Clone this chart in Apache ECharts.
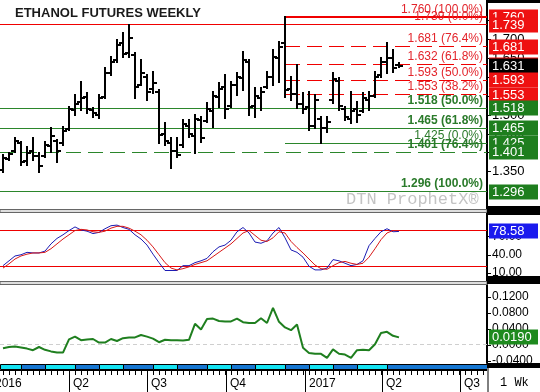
<!DOCTYPE html>
<html><head><meta charset="utf-8">
<script src="https://cdn.jsdelivr.net/npm/echarts@6/dist/echarts.min.js"></script>
<style>html,body{margin:0;padding:0;background:#fff}#c{width:540px;height:392px}</style>
</head><body><div id="c"></div>
<script>
// ---------------- DATA ----------------
const firstBarDate = '2016-01-15';           // weekly bars start here
const opens  = [1.354,1.383,1.405,1.425,1.378,1.405,1.392,1.392,1.418,1.430,1.425,1.462,1.512,1.535,1.548,1.512,1.500,1.548,1.612,1.645,1.690,1.665,1.660,1.580,1.600,1.570,1.560,1.450,1.425,1.405,1.420,1.470,1.445,1.488,1.485,1.510,1.548,1.575,1.525,1.580,1.598,1.640,1.525,1.545,1.575,1.600,1.650,1.690,1.570,1.555,1.530,1.520,1.470,1.490,1.465,1.540,1.590,1.515,1.490,1.515,1.510,1.540,1.550,1.605,1.640,1.650,1.632];
const highs  = [1.394,1.399,1.439,1.428,1.415,1.439,1.399,1.428,1.466,1.434,1.468,1.521,1.553,1.588,1.558,1.519,1.553,1.625,1.654,1.699,1.718,1.739,1.665,1.646,1.606,1.614,1.566,1.479,1.439,1.439,1.487,1.487,1.500,1.495,1.532,1.561,1.585,1.606,1.588,1.611,1.667,1.646,1.572,1.572,1.614,1.672,1.693,1.760,1.601,1.633,1.558,1.561,1.553,1.495,1.495,1.611,1.598,1.521,1.561,1.535,1.558,1.561,1.614,1.651,1.691,1.672,1.638];
const lows   = [1.349,1.381,1.402,1.367,1.367,1.381,1.349,1.389,1.402,1.375,1.420,1.460,1.500,1.513,1.505,1.495,1.492,1.545,1.606,1.641,1.654,1.654,1.545,1.580,1.540,1.558,1.426,1.420,1.359,1.389,1.415,1.442,1.399,1.428,1.481,1.468,1.521,1.492,1.521,1.553,1.566,1.500,1.495,1.513,1.572,1.580,1.588,1.548,1.540,1.519,1.505,1.460,1.466,1.425,1.455,1.532,1.513,1.487,1.479,1.481,1.508,1.513,1.548,1.601,1.611,1.614,1.627];
const closes = [1.386,1.397,1.430,1.375,1.400,1.390,1.365,1.420,1.445,1.405,1.458,1.515,1.530,1.545,1.515,1.505,1.545,1.612,1.640,1.685,1.662,1.705,1.575,1.612,1.560,1.585,1.448,1.430,1.405,1.395,1.475,1.450,1.490,1.440,1.515,1.550,1.570,1.515,1.580,1.600,1.645,1.520,1.550,1.560,1.600,1.655,1.680,1.565,1.555,1.530,1.515,1.470,1.540,1.465,1.482,1.595,1.525,1.495,1.510,1.500,1.545,1.550,1.600,1.640,1.650,1.625,1.631];
const stochK = [22,30,38,40,44,43,43,46,58,67,73,80,86,81,79,75,77,83,88,89,85,82,73,66,56,41,27,14,14,14,22,22,27,30,34,45,53,56,64,78,85,76,61,59,63,76,85,68,48,44,36,21,15,15,18,32,30,26,22,24,30,55,67,78,83,78,78.58];
const stochD = [18,25,33,38,41,43,43,44,50,58,66,73,80,82,81,78,77,79,84,87,87,84,79,73,64,53,40,27,18,15,17,20,24,27,30,37,44,51,58,67,76,80,72,64,62,68,78,76,62,52,43,33,23,17,16,22,27,29,26,24,26,36,50,65,76,80,80];
const oscValues = [-0.008,-0.005,-0.004,-0.006,-0.009,-0.013,-0.005,-0.012,-0.016,-0.019,-0.019,0.014,0.021,0.012,0.014,0.015,0.006,0.006,0.015,0.010,0.017,0.019,0.019,0.025,0.021,0.016,0.007,0.013,0.012,0.012,0.011,0.013,0.053,0.039,0.065,0.066,0.060,0.059,0.059,0.066,0.057,0.055,0.055,0.067,0.055,0.093,0.058,0.044,0.037,0.051,-0.007,-0.020,-0.022,-0.022,-0.032,-0.011,-0.022,-0.024,-0.032,-0.013,-0.012,-0.013,0.002,0.030,0.033,0.023,0.019];
const redLevels   = [1.760, 1.739, 1.681, 1.632, 1.593, 1.553];
const redPcts     = ['100.0%','0.0%','76.4%','61.8%','50.0%','38.2%'];
const greenLevels = [1.518, 1.465, 1.425, 1.401, 1.296];
const greenPcts   = ['50.0%','61.8%','0.0%','76.4%','100.0%'];
const priceTicks  = [1.35,1.40,1.45,1.50,1.55,1.60,1.65,1.70,1.75];
const stochTicks  = [10,40,70];
const stochBands  = [80,20];
const oscTicks    = [-0.04,0,0.04,0.08,0.12];
const quarterDates  = ['2016-01-01','2016-04-01','2016-07-01','2016-10-01','2017-01-01','2017-04-01','2017-07-01'];
const quarterLabels = ['2016','Q2','Q3','Q4','2017','Q2','Q3'];
const monthBandDates = ['2016-02-05','2016-03-04','2016-04-08','2016-05-06','2016-06-03','2016-07-08','2016-08-05','2016-09-09','2016-10-07','2016-11-04','2016-12-09','2017-01-06','2017-02-03','2017-03-03','2017-04-07'];
const title = 'ETHANOL FUTURES WEEKLY';
const watermark = 'DTN ProphetX\u00AE';
const periodLabel = '1 Wk';

// ---------------- HELPERS / STYLES ----------------
const DAY = 864e5;
const weekOf = s => (Date.parse(s) - Date.parse('2016-01-01')) / (7 * DAY);
const barW = k => weekOf(firstBarDate) + k;
const W0 = barW(0) - 0.5, W1 = W0 + 487 / 6;
const FONT = '"Liberation Sans", Arial, sans-serif';
const RED_LINE = '#f00000', RED_TXT = '#e3242b', GREEN_LINE = '#2b862b', GREEN_TXT = '#2a7a2a';
const swingW = barW(highs.indexOf(Math.max(...highs)));
const DASH = [15,7];
const redStyles = [
  {from:'swing', dash:null, width:2},
  {from:'start', dash:null, width:1, even:true},
  {from:'swing', dash:DASH, width:1, even:true},
  {from:'swing', dash:DASH, width:1, even:true},
  {from:'swing', dash:DASH, width:1, even:true},
  {from:'swing', dash:DASH, width:1, even:true}
];
const greenStyles = [
  {from:'start', dash:null, width:1, bold:true},
  {from:'start', dash:null, width:1, bold:true},
  {from:'swing', dash:null, width:1, bold:false},
  {from:'start', dash:DASH, width:1, bold:true},
  {from:'start', dash:null, width:1, bold:true}
];
const fibDefs = [
  ...redLevels.map((v,i) => ({v, label:v.toFixed(3)+' ('+redPcts[i]+')', color:RED_LINE, txt:RED_TXT, ...redStyles[i]})),
  ...greenLevels.map((v,i) => ({v, label:v.toFixed(3)+' ('+greenPcts[i]+')', color:GREEN_LINE, txt:GREEN_TXT, ...greenStyles[i]}))
];

function rightAxis(grid, min, max, ticks, dec, size) {
  return {type:'value', gridIndex:grid, position:'right', min, max,
    axisLine:{show:true, lineStyle:{color:'#000', width:2}},
    axisTick:{show:true, length:4, customValues:ticks, lineStyle:{color:'#000', width:1}},
    axisLabel:{show:true, customValues:ticks, formatter:v => v.toFixed(dec), color:'#000', fontSize:size, fontFamily:FONT, margin:5},
    splitLine:{show:false}};
}
function crisp(y, w, even) {
  if (even) return Math.round((y - 0.5) / 2) * 2 + 0.5;
  return w % 2 ? Math.round(y - 0.5) + 0.5 : Math.round(y);
}
function hLines(grid, values, stroke, dash, z) {
  return {type:'custom', xAxisIndex:grid, yAxisIndex:grid, z, silent:true,
    data:values.map(v => [W0, v]), encode:{x:0, y:1},
    renderItem:(p, api) => {
      const a = api.coord([W0, api.value(1)]), b = api.coord([W1, api.value(1)]);
      const y = crisp(a[1], 1, true);
      return {type:'line', shape:{x1:a[0], y1:y, x2:b[0], y2:y}, style:{stroke, lineWidth:1, lineDash:dash}};
    }};
}

const bandEdges = [W0, ...monthBandDates.map(weekOf), W1];
const bandData = bandEdges.slice(0,-1).map((s,i) => [s, bandEdges[i+1], i % 2]);

const chart = echarts.init(document.getElementById('c'));
chart.setOption({
  animation:false,
  backgroundColor:'#fff',
  grid:[
    {left:0, right:53, top:0, height:210},
    {left:0, right:53, top:213, height:69},
    {left:0, right:53, top:285, height:78},
    {left:0, right:53, top:364, height:6}
  ],
  xAxis:[0,1,2,3].map(i => ({type:'value', gridIndex:i, min:W0, max:W1, show:false})),
  yAxis:[
    rightAxis(0, 1.248, 1.805, priceTicks, 3, 13),
    rightAxis(1, -5, 109, stochTicks, 2, 12),
    rightAxis(2, -0.045, 0.15, oscTicks, 4, 12),
    {type:'value', gridIndex:3, min:0, max:1, show:false}
  ],
  series:[
    // Fibonacci levels with their labels
    {type:'custom', xAxisIndex:0, yAxisIndex:0, z:2, silent:true,
     data:fibDefs.map(d => [d.from === 'swing' ? swingW : W0, d.v]), encode:{x:0, y:1},
     renderItem:(p, api) => {
       const d = fibDefs[p.dataIndex];
       const a = api.coord([api.value(0), api.value(1)]), b = api.coord([W1, api.value(1)]);
       const y = crisp(a[1], d.width, d.even);
       return {type:'group', children:[
         {type:'line', shape:{x1:a[0], y1:y, x2:b[0], y2:y}, style:{stroke:d.color, lineWidth:d.width, lineDash:d.dash}},
         {type:'text', style:{text:d.label, x:b[0]-4, y:y-1.5, fill:d.txt,
            font:(d.bold ? 'bold ' : '') + '12px ' + FONT, align:'right', verticalAlign:'bottom', textAlign:'right', textVerticalAlign:'bottom'}}
       ]};
     }},
    // weekly OHLC bars
    {type:'custom', xAxisIndex:0, yAxisIndex:0, z:5,
     data:opens.map((o,k) => [barW(k), o, highs[k], lows[k], closes[k]]),
     encode:{x:0, y:[1,2,3,4]},
     renderItem:(params, api) => {
       const x = api.value(0);
       const o = api.coord([x, api.value(1)]), h = api.coord([x, api.value(2)]);
       const l = api.coord([x, api.value(3)]), c = api.coord([x, api.value(4)]);
       const st = {stroke:'#000', lineWidth:2};
       const yo = Math.round(o[1]), yc = Math.round(c[1]);
       return {type:'group', children:[
         {type:'line', shape:{x1:h[0], y1:Math.round(h[1])-1, x2:l[0], y2:Math.round(l[1])+1}, style:st},
         {type:'line', shape:{x1:o[0]-4, y1:yo, x2:o[0], y2:yo}, style:st},
         {type:'line', shape:{x1:c[0], y1:yc, x2:c[0]+4, y2:yc}, style:st}
       ]};
     }},
    hLines(1, stochBands, '#ee0000', null, 2),
    {type:'line', xAxisIndex:1, yAxisIndex:1, data:stochK.map((v,k) => [barW(k), v]),
     symbol:'none', lineStyle:{color:'#1c1cb4', width:1}, z:3},
    {type:'line', xAxisIndex:1, yAxisIndex:1, data:stochD.map((v,k) => [barW(k), v]),
     symbol:'none', lineStyle:{color:'#d81818', width:1}, z:4},
    hLines(2, [0], '#cfcfcf', [4,3], 2),
    {type:'line', xAxisIndex:2, yAxisIndex:2, data:oscValues.map((v,k) => [barW(k), v]),
     symbol:'none', lineStyle:{color:'#1f7f1f', width:2}, z:4},
    {type:'custom', xAxisIndex:3, yAxisIndex:3, data:bandData, clip:true,
     renderItem:(params, api) => {
       const a = api.coord([api.value(0), 1]), b = api.coord([api.value(1), 0]);
       return {type:'rect', shape:{x:Math.round(a[0])+0.5, y:a[1]+0.5, width:Math.round(b[0]-a[0]), height:b[1]-a[1]-1},
         style:{fill:api.value(2) ? '#1677d2' : '#14e3f2', stroke:'#000', lineWidth:1}};
     }}
  ]
});

// ---------- overlay text / boxes positioned through the axes ----------
const px  = w => chart.convertToPixel({xAxisIndex:3}, w);
const py  = (i, v) => chart.convertToPixel({yAxisIndex:i}, v);
const g = [];
let z2 = 1;
function text(x, y, t, font, fill, align) {
  g.push({type:'text', x, y, z:100, z2:z2++, silent:true,
    style:{text:t, font, fill, align:align||'left', verticalAlign:'middle', textAlign:align||'left', textVerticalAlign:'middle'}});
}
function rect(x, y, w, h, fill, stroke) {
  g.push({type:'rect', z:100, z2:z2++, silent:true, shape:{x, y, width:w, height:h},
    style:{fill, stroke:stroke||null, lineWidth:1}});
}
function line(x1, y1, x2, y2, stroke, w) {
  g.push({type:'line', z:100, z2:z2++, silent:true, shape:{x1, y1, x2, y2}, style:{stroke, lineWidth:w||1}});
}
function box(y, t, fill) {
  rect(489, Math.round(y) - 7.5, 49, 15, fill);
  text(492, Math.round(y), t, '13px ' + FONT, '#fff');
}

text(15, 13, title, 'bold 13px ' + FONT, '#1a1a1a');
text(346, 199, watermark, '17px "Liberation Mono", "Courier New", monospace', '#c4c4c4');

// price boxes (last close drawn over the 61.8% level it sits on)
const lastClose = closes[closes.length-1];
redLevels.slice(0,4).forEach(v => box(py(0, v), v.toFixed(3), '#ee1111'));
box(py(0, lastClose), lastClose.toFixed(3), '#000');
redLevels.slice(4).forEach(v => box(py(0, v), v.toFixed(3), '#ee1111'));
greenLevels.forEach(v => box(py(0, v), v.toFixed(3), '#1e7e1e'));
box(py(1, stochK[stochK.length-1]), stochK[stochK.length-1].toFixed(2), '#1a1aee');
box(py(2, oscValues[oscValues.length-1]), oscValues[oscValues.length-1].toFixed(4), '#1e8a1e');

// panel separators
rect(0, 209.5, 487, 3, '#dedede', '#666');
rect(0, 281.5, 487, 3, '#dedede', '#666');
// right column black bars
rect(487, 0, 53, 3, '#000');
rect(487, 206, 53, 9, '#000');
rect(487, 276, 53, 8, '#000');
rect(487, 363, 53, 5, '#000');
line(488, 368, 488, 392, '#000', 1);
text(500, 383, periodLabel, '12px "Liberation Mono", "Courier New", monospace', '#000');

// time axis ticks and labels
line(0, 370.5, 487, 370.5, '#000', 1);
for (let w = Math.ceil(W0); w <= W1; w++) {
  const x = Math.round(px(w)) + 0.5;
  line(x, 371, x, 375, '#000', 1);
}
quarterDates.forEach((d, i) => {
  const x = Math.round(px(weekOf(d))) + 0.5;
  line(x, 371, x, 392, '#000', 1);
  text(x + 3.5, 384, quarterLabels[i], '12px ' + FONT, '#000');
});

chart.setOption({graphic:{elements:g}});
</script>
</body></html>
